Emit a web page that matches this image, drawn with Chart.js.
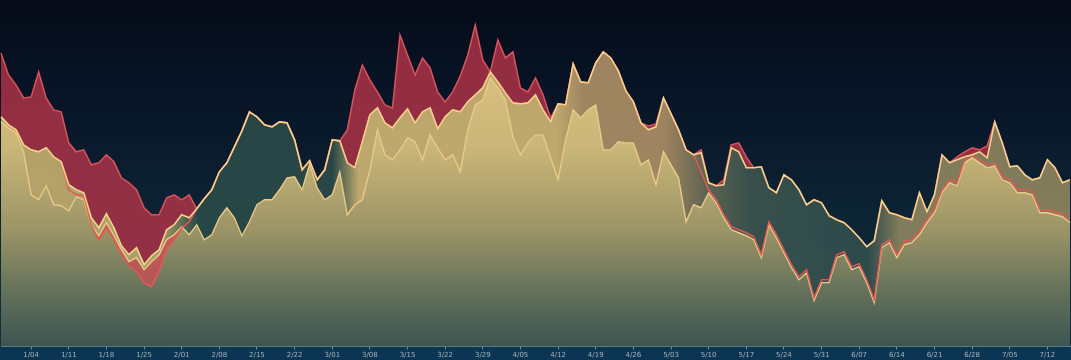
<!DOCTYPE html>
<html>
<head>
<meta charset="utf-8">
<script src="https://cdn.jsdelivr.net/npm/chart.js@4.4.1/dist/chart.umd.min.js"></script>
<style>
    body { margin: 0; background: #050b18; }
    #wrap {
        width: 1071px;
        height: 360px;
        background: linear-gradient(to bottom, #050b18 0%, #081628 30%, #0d2636 65%, #12323f 100%);
    }
</style>
</head>
<body>
<div id="wrap"><canvas id="history"></canvas></div>
<script>
// weekly tick labels along the bottom axis
const tickLabels = ['1/04','1/11','1/18','1/25','2/01','2/08','2/15','2/22','3/01','3/08','3/15','3/22','3/29','4/05',
    '4/12','4/19','4/26','5/03','5/10','5/17','5/24','5/31','6/07','6/14','6/21','6/28','7/05','7/12'];

// upper yellow line
const seriesA = [230,222,217,202,197,195,199,190,185,162,157,154,129,119,133,119,101,92,99,82,91,97,117,122,132,129,
    138,148,157,175,184,200,216,235,230,222,220,225,224,207,177,186,167,177,207,206,184,179,205,232,239,224,219,229,238,224,
    235,239,218,230,237,235,245,252,259,275,265,254,244,243,244,252,237,225,243,242,283,265,264,284,295,289,276,256,245,224,
    217,220,249,233,217,197,192,194,164,161,162,199,195,179,179,180,159,154,172,167,157,142,147,144,131,127,124,117,109,100,
    106,146,134,132,129,127,154,135,152,192,184,187,190,192,195,189,225,204,180,181,172,167,169,187,179,164,167];

// lower yellow line (main ground)
const seriesB = [225,219,214,195,152,147,161,142,141,136,150,147,121,111,124,111,97,85,89,77,85,92,107,112,120,112,
    122,107,112,129,139,129,111,125,142,147,147,157,169,170,157,183,159,147,152,175,132,142,147,177,217,192,187,197,209,205,
    187,212,199,187,192,175,217,242,247,269,259,247,210,192,204,212,212,189,167,207,237,229,237,242,197,197,205,204,204,182,
    187,162,195,182,169,125,142,139,154,144,129,117,114,111,107,89,122,109,94,79,67,74,46,64,64,89,92,77,80,64,
    44,99,104,89,102,104,112,124,134,154,164,161,184,189,184,179,181,167,164,154,154,152,134,134,132,130,124];

// red upper edge
const seriesRed = [294,272,262,249,250,275,249,237,235,204,195,197,182,184,192,185,169,164,157,139,132,132,149,152,147,152,
    138,148,157,175,184,200,216,235,230,222,220,225,224,207,177,186,167,177,207,206,217,257,282,267,255,242,239,312,292,272,
    289,279,255,245,255,271,292,322,287,275,307,289,295,259,255,269,252,229,243,242,283,265,264,284,295,289,276,256,245,224,
    221,223,249,233,217,197,192,197,164,161,167,202,204,190,179,180,159,154,172,167,157,142,147,144,131,127,124,117,109,100,
    106,146,134,132,129,127,154,135,152,192,184,190,195,199,197,201,225,204,180,181,172,167,169,187,179,164,167];

// red lower line
const seriesRedLow = [230,222,217,202,197,195,199,190,185,157,152,151,121,107,119,107,92,81,75,64,60,75,97,107,119,125,
    138,148,157,175,184,200,216,235,230,222,220,225,224,207,177,186,167,177,207,206,184,179,205,232,239,224,219,229,238,224,
    235,239,218,230,237,235,245,252,259,275,265,254,244,243,244,252,237,225,243,242,283,265,264,284,295,289,276,256,245,224,
    217,220,249,233,217,197,192,175,157,147,132,120,117,114,110,92,125,112,97,82,70,77,49,67,67,92,95,80,83,67,
    47,102,107,92,105,107,115,127,137,157,167,164,187,192,187,182,184,170,167,157,157,155,137,137,135,133,127];

const labels = seriesA.map((v, i) => i);

/////////////////////////////////////////////////////////////////////////////////////////////

function makeGradients(ctx) {
    // ground fill, light tan at the top fading to teal at the axis
    let ground = ctx.createLinearGradient(0, 40, 0, 347);
    ground.addColorStop(0, 'rgb(222,196,132)');
    ground.addColorStop(0.35, 'rgb(202,182,120)');
    ground.addColorStop(0.62, 'rgb(155,148,102)');
    ground.addColorStop(0.82, 'rgb(100,113,91)');
    ground.addColorStop(1, 'rgb(60,84,80)');

    // band between the two yellow lines changes tone along the way
    let band = ctx.createLinearGradient(0, 0, 1071, 0);
    band.addColorStop(0, 'rgba(200,178,112,0.9)');
    band.addColorStop(0.15, 'rgba(190,170,110,0.9)');
    band.addColorStop(0.185, 'rgba(45,78,74,0.85)');
    band.addColorStop(0.31, 'rgba(45,78,74,0.85)');
    band.addColorStop(0.335, 'rgba(205,180,115,0.92)');
    band.addColorStop(0.52, 'rgba(205,180,115,0.92)');
    band.addColorStop(0.545, 'rgba(175,145,102,0.9)');
    band.addColorStop(0.62, 'rgba(175,145,102,0.9)');
    band.addColorStop(0.66, 'rgba(110,110,88,0.85)');
    band.addColorStop(0.70, 'rgba(65,88,80,0.85)');
    band.addColorStop(0.81, 'rgba(50,80,78,0.85)');
    band.addColorStop(0.84, 'rgba(150,140,98,0.85)');
    band.addColorStop(1, 'rgba(150,140,98,0.85)');

    return { ground: ground, band: band };
}

// dark blue strip under the x axis
const axisBand = {
    id: 'axisBand',
    beforeDraw(chart) {
        let c = chart.ctx;
        c.save();
        c.fillStyle = '#0c3553';
        c.fillRect(0, chart.chartArea.bottom, chart.width, chart.height - chart.chartArea.bottom);
        c.restore();
    }
};

function createChart() {
    let canvas = document.getElementById('history');
    let g = makeGradients(canvas.getContext('2d'));

    const data = {
        labels: labels,
        datasets: [
            {
                label: 'A',
                data: seriesA,
                borderColor: '#f3d48e',
                borderWidth: 1.6,
                fill: { target: 2, above: g.band, below: g.band }
            },
            {
                label: 'Red low',
                data: seriesRedLow,
                borderColor: 'rgba(230,88,84,0.95)',
                borderWidth: 1.5,
                fill: { target: 2, above: 'rgba(0,0,0,0)', below: 'rgba(205,75,85,0.75)' }
            },
            {
                label: 'B',
                data: seriesB,
                borderColor: '#ebcb88',
                borderWidth: 1.4,
                fill: { target: 'origin', above: g.ground, below: g.ground }
            },
            {
                label: 'Red',
                data: seriesRed,
                borderColor: 'rgba(226,86,96,0.95)',
                borderWidth: 1.5,
                fill: { target: 0, above: 'rgba(172,50,72,0.85)', below: 'rgba(0,0,0,0)' }
            }
        ]
    };

    const config = {
        type: 'line',
        data: data,
        options: {
            responsive: true,
            maintainAspectRatio: false,
            animation: false,
            layout: { padding: 0 },
            elements: { point: { radius: 0 }, line: { tension: 0 } },
            plugins: {
                legend: { display: false },
                tooltip: { enabled: false },
                filler: { drawTime: 'beforeDatasetsDraw' }
            },
            scales: {
                x: {
                    offset: false,
                    border: { color: 'rgba(120,150,156,0.8)', width: 1 },
                    grid: {
                        drawOnChartArea: false,
                        tickLength: 3,
                        color: ctx => ((ctx.index - 4) % 5 === 0 ? 'rgba(150,175,180,0.7)' : 'rgba(0,0,0,0)')
                    },
                    ticks: {
                        autoSkip: false,
                        maxRotation: 0,
                        padding: 1,
                        color: 'rgba(200,210,212,0.8)',
                        font: { family: 'DejaVu Sans', size: 7 },
                        callback: function(value, index) {
                            if ((index - 4) % 5 === 0) return tickLabels[(index - 4) / 5];
                            return '';
                        }
                    }
                },
                y: {
                    display: false,
                    min: 0,
                    max: 347
                }
            }
        },
        plugins: [axisBand]
    };

    const live = new Chart(canvas, config);
}

document.addEventListener('DOMContentLoaded', function() {
    createChart();
});
</script>
</body>
</html>
